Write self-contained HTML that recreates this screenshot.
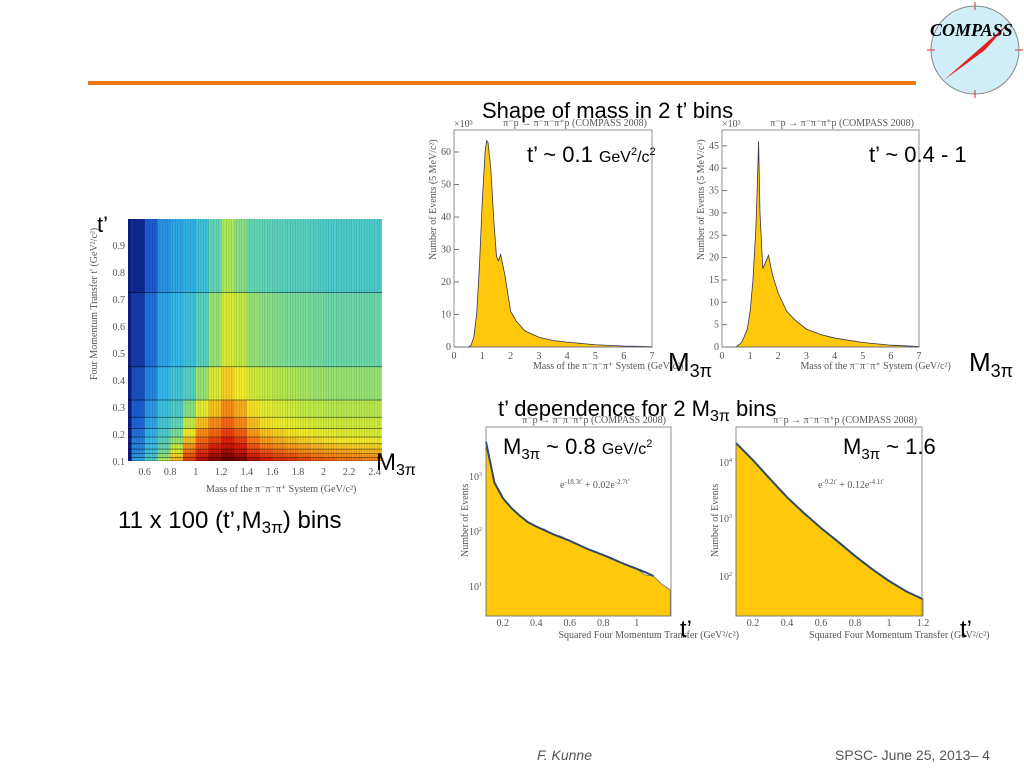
<!DOCTYPE html>
<html><head><meta charset="utf-8">
<style>
body{margin:0;background:#fff;width:1024px;height:768px;overflow:hidden}
svg{display:block}
.ax{font-family:"Liberation Serif",serif;fill:#555;font-size:10px}
.big{font-family:"Liberation Sans",sans-serif;fill:#000}
</style></head>
<body>
<svg id="s" width="1024" height="768" viewBox="0 0 1024 768" xmlns="http://www.w3.org/2000/svg">
<defs><clipPath id="hc"><rect x="128" y="219" width="254" height="242"/></clipPath></defs>
<line x1="88" y1="83" x2="916" y2="83" stroke="#f07a10" stroke-width="4"/>
<g>
<circle cx="975" cy="50" r="44" fill="#cfeef8" stroke="#888" stroke-width="1"/>
<line x1="975" y1="2" x2="975" y2="10" stroke="#d33"/><line x1="975" y1="90" x2="975" y2="98" stroke="#d33"/>
<line x1="927" y1="50" x2="935" y2="50" stroke="#d33"/><line x1="1015" y1="50" x2="1023" y2="50" stroke="#d33"/>
<polygon points="944,80 1010,22 985,50" fill="#e02020"/>
<text x="930" y="36" font-family="Liberation Serif,serif" font-style="italic" font-weight="bold" font-size="18">COMPASS</text>
</g>
<g id="heat"></g>
<g id="h1"></g>
<g id="h2"></g>
<g id="h3"></g>
<g id="h4"></g>

<text class="big" x="482" y="118" font-size="22">Shape of mass in 2 t’ bins</text>
<text class="big" x="527" y="162" font-size="22">t’ ~ 0.1 <tspan font-size="16">GeV<tspan dy="-7" font-size="11">2</tspan><tspan dy="7">/c</tspan><tspan dy="-7" font-size="11">2</tspan></tspan></text>
<text class="big" x="869" y="162" font-size="22">t’ ~ 0.4 - 1</text>
<text class="big" x="668" y="371" font-size="26">M<tspan font-size="18" dy="6">3π</tspan></text>
<text class="big" x="969" y="371" font-size="26">M<tspan font-size="18" dy="6">3π</tspan></text>
<text class="big" x="498" y="416" font-size="22">t’ dependence for 2 M<tspan font-size="16" dy="5">3π</tspan><tspan dy="-5"> bins</tspan></text>
<text class="big" x="503" y="454" font-size="22">M<tspan font-size="15" dy="5">3π</tspan><tspan dy="-5"> ~ 0.8 </tspan><tspan font-size="16">GeV/c<tspan dy="-7" font-size="11">2</tspan></tspan></text>
<text class="big" x="843" y="454" font-size="22">M<tspan font-size="15" dy="5">3π</tspan><tspan dy="-5"> ~ 1.6</tspan></text>
<text class="big" x="680" y="637" font-size="24">t’</text>
<text class="big" x="960" y="637" font-size="24">t’</text>
<text class="big" x="97" y="232" font-size="22">t’</text>
<text class="big" x="376" y="470" font-size="24">M<tspan font-size="16" dy="5">3π</tspan></text>
<text class="big" x="118" y="528" font-size="24">11 x 100 (t’,M<tspan font-size="17" dy="5">3π</tspan><tspan dy="-5">) bins</tspan></text>
<text x="537" y="760" font-family="Liberation Sans,sans-serif" font-style="italic" font-size="14" fill="#555">F. Kunne</text>
<text x="835" y="760" font-family="Liberation Sans,sans-serif" font-size="14" fill="#555">SPSC- June 25, 2013– 4</text>
</svg>
<script>
// ---- heatmap data ----
const tEdges=[0.1,0.113,0.127,0.144,0.164,0.189,0.220,0.262,0.326,0.449,0.724,1.0];
const massEdgesStart=0.5, massStep=0.1;
const heatRows=[
[0.3,0.4,0.55,0.72,0.86,0.93,0.97,1.0,0.98,0.93,0.9,0.88,0.87,0.85,0.83,0.82,0.8,0.8,0.78,0.78],
[0.28,0.38,0.52,0.7,0.84,0.9,0.95,0.97,0.95,0.9,0.87,0.85,0.84,0.82,0.8,0.79,0.78,0.77,0.76,0.76],
[0.26,0.36,0.48,0.64,0.81,0.88,0.92,0.95,0.92,0.87,0.84,0.82,0.8,0.78,0.77,0.76,0.75,0.74,0.73,0.73],
[0.25,0.35,0.45,0.58,0.77,0.85,0.9,0.92,0.9,0.84,0.8,0.78,0.76,0.75,0.73,0.72,0.71,0.7,0.7,0.7],
[0.24,0.34,0.43,0.52,0.72,0.82,0.86,0.9,0.87,0.8,0.76,0.74,0.72,0.7,0.69,0.68,0.67,0.67,0.66,0.66],
[0.22,0.32,0.4,0.48,0.66,0.78,0.82,0.86,0.83,0.76,0.72,0.7,0.68,0.66,0.65,0.64,0.63,0.63,0.62,0.62],
[0.2,0.3,0.38,0.44,0.58,0.72,0.78,0.82,0.78,0.72,0.68,0.66,0.64,0.62,0.61,0.6,0.6,0.6,0.6,0.6],
[0.18,0.28,0.36,0.4,0.5,0.64,0.72,0.78,0.74,0.68,0.64,0.62,0.6,0.58,0.57,0.56,0.56,0.56,0.56,0.56],
[0.15,0.25,0.33,0.37,0.42,0.52,0.62,0.7,0.67,0.6,0.58,0.56,0.55,0.54,0.53,0.52,0.52,0.52,0.52,0.52],
[0.1,0.22,0.3,0.33,0.36,0.42,0.52,0.62,0.58,0.52,0.5,0.49,0.48,0.48,0.47,0.46,0.46,0.46,0.46,0.46],
[0.05,0.18,0.27,0.3,0.32,0.36,0.45,0.55,0.5,0.45,0.44,0.43,0.42,0.42,0.41,0.4,0.4,0.4,0.4,0.4]];
const heatXTicks=[0.6,0.8,1,1.2,1.4,1.6,1.8,2,2.2,2.4];
const heatYTicks=[0.1,0.2,0.3,0.4,0.5,0.6,0.7,0.8,0.9];
// ---- mass histograms ----
const massPts1=[0,0.5,0.6,0.7,0.8,0.9,1.0,1.1,1.15,1.2,1.3,1.4,1.5,1.57,1.65,1.8,2.0,2.2,2.5,3,3.5,4,5,6,7];
const massVals1=[0,0,0.5,3,10,25,45,60,63.5,63,55,40,28,26.5,28.5,22,11,8,5,3,2,1.5,0.7,0.3,0.1];
const massPts2=[0,0.5,0.7,0.9,1.0,1.1,1.2,1.25,1.3,1.35,1.45,1.55,1.65,1.8,2,2.3,2.6,3,3.5,4,5,6,7];
const massVals2=[0,0,1,4,8,15,26,35,46,30,17.5,19,20.5,16,12,8,6,4,2.8,2,1,0.4,0.1];
const massTicks=[0,1,2,3,4,5,6,7];
const yTicks1=[0,10,20,30,40,50,60];
const yTicks2=[0,5,10,15,20,25,30,35,40,45];
// ---- t histograms (log10 counts) ----
const tPts3=[0.1,0.15,0.2,0.25,0.3,0.35,0.4,0.45,0.5,0.55,0.6,0.65,0.7,0.75,0.8,0.85,0.9,0.95,1.0,1.05,1.1,1.15,1.2];
const tLog3=[3.64,2.9,2.62,2.44,2.3,2.18,2.1,2.05,1.96,1.92,1.84,1.78,1.7,1.64,1.58,1.5,1.45,1.38,1.33,1.22,1.2,1.05,0.95];
const fitLog3=[3.64,2.9,2.62,2.44,2.3,2.18,2.1,2.03,1.96,1.9,1.84,1.77,1.7,1.64,1.58,1.52,1.45,1.39,1.33,1.27,1.2];
const tPts4=[0.1,0.2,0.3,0.4,0.5,0.6,0.7,0.8,0.9,1.0,1.1,1.2];
const tLog4=[4.35,4.05,3.72,3.4,3.12,2.86,2.62,2.37,2.14,1.93,1.75,1.61];
const tTicks=[0.2,0.4,0.6,0.8,1];
const tTicks4=[0.2,0.4,0.6,0.8,1,1.2];

const NS='http://www.w3.org/2000/svg';
function mk(p,tag,a){const e=document.createElementNS(NS,tag);for(const k in a)e.setAttribute(k,a[k]);p.appendChild(e);return e;}
function cmap(v){
  const st=[[0,[10,20,120]],[0.2,[30,100,215]],[0.33,[50,185,235]],[0.45,[100,215,180]],[0.57,[190,235,70]],[0.67,[245,235,40]],[0.8,[250,120,20]],[0.9,[220,30,10]],[1,[110,0,0]]];
  for(let i=1;i<st.length;i++){if(v<=st[i][0]){const f=(v-st[i-1][0])/(st[i][0]-st[i-1][0]);const a=st[i-1][1],b=st[i][1];return `rgb(${a.map((c,j)=>Math.round(c+(b[j]-c)*f)).join(',')})`;}}
  return 'rgb(110,0,0)';
}
// heatmap
(function(){
  const root=document.getElementById('heat');
  const g=mk(root,'g',{'clip-path':'url(#hc)'});
  const x=m=>128+(m-0.47)*127.8, y=t=>461-(t-0.1)*270;
  mk(g,'rect',{x:128,y:219,width:x(0.5)-128,height:242,fill:cmap(0.02)});
  heatRows.forEach((row,ri)=>row.forEach((v,ci)=>{
    const m0=massEdgesStart+ci*massStep;
    const r=mk(g,'rect',{x:x(m0),y:y(tEdges[ri+1]),width:x(m0+massStep)-x(m0)+0.5,height:y(tEdges[ri])-y(tEdges[ri+1])+0.5,fill:cmap(v)});
    
    
  }));
  for(let m=0.5;m<2.52;m+=0.02) mk(g,'line',{x1:x(m),y1:219,x2:x(m),y2:461,stroke:'rgba(0,0,0,0.22)','stroke-width':0.5});
  tEdges.forEach(t=>mk(g,'line',{x1:128,y1:y(t),x2:382,y2:y(t),stroke:'rgba(0,0,0,0.6)','stroke-width':0.7}));
  heatXTicks.forEach(m=>{const t=mk(root,'text',{x:x(m),y:475,'text-anchor':'middle',class:'ax','font-size':12});t.textContent=m;});
  heatYTicks.forEach(v=>{const t=mk(root,'text',{x:125,y:y(v)+4,'text-anchor':'end',class:'ax','font-size':12});t.textContent=v;});
  const xl=mk(root,'text',{x:206,y:492,class:'ax','font-size':11});xl.textContent='Mass of the π⁻π⁻π⁺ System (GeV/c²)';
  const yl=mk(root,'text',{x:0,y:0,class:'ax','font-size':11,transform:'translate(97,380) rotate(-90)'});yl.textContent="Four Momentum Transfer t' (GeV²/c²)";
})();
function frame(g,x0,y0,x1,y1,xlab,ylab,head){
  mk(g,'rect',{x:x0,y:y0,width:x1-x0,height:y1-y0,fill:'none',stroke:'#777','stroke-width':0.8});
  const t=mk(g,'text',{x:(x0+x1)/2-20,y:y1+22,class:'ax'});t.textContent=xlab;
  const yl=mk(g,'text',{x:0,y:0,class:'ax',transform:`translate(${x0-18},${y0+130}) rotate(-90)`});yl.textContent=ylab;
  const h=mk(g,'text',{x:x1-5,y:y0-4,class:'ax','font-size':6,'text-anchor':'end'});h.textContent=head;
}
function massHist(id,x0,x1,y1,ppu,pts,vals,yt){
  const g=document.getElementById(id);
  const x=m=>x0+m*(x1-x0)/7, y=v=>y1-v*ppu;
  let d=`M${x(pts[0])},${y1}`;pts.forEach((p,i)=>d+=` L${x(p)},${y(vals[i])}`);d+=` L${x(7)},${y1} Z`;
  const a=mk(g,'path',{d,fill:'#ffc80a',stroke:'#335','stroke-width':0.8});
  
  
  frame(g,x0,130,x1,y1,'Mass of the π⁻π⁻π⁺ System (GeV/c²)','Number of Events (5 MeV/c²)','π⁻p → π⁻π⁻π⁺p (COMPASS 2008)');
  massTicks.forEach(m=>{const t=mk(g,'text',{x:x(m),y:y1+12,'text-anchor':'middle',class:'ax'});t.textContent=m;});
  yt.forEach(v=>{const t=mk(g,'text',{x:x0-3,y:y(v)+3,'text-anchor':'end',class:'ax'});t.textContent=v;mk(g,'line',{x1:x0,y1:y(v),x2:x0+5,y2:y(v),stroke:'#777'});});
  const e=mk(g,'text',{x:x0,y:127,class:'ax','font-size':8});e.textContent='×10³';
}
massHist('h1',454,652,347,3.25,massPts1,massVals1,yTicks1);
massHist('h2',722,919,347,4.47,massPts2,massVals2,yTicks2);
function tHist(id,x0,x1,ppu,ref1,yRef,pts,logs,fit,ticks,yt,formula){
  const g=document.getElementById(id);
  const y0=427,y1=616;
  const x=t=>x0+(t-0.1)*ppu, y=l=>yRef-(l-ref1)*yt;
  let d=`M${x(pts[0])},${y1}`;pts.forEach((p,i)=>d+=` L${x(p)},${Math.max(y0,y(logs[i]))}`);d+=` L${x(pts[pts.length-1])},${y1} Z`;
  const a=mk(g,'path',{d,fill:'#ffc80a',stroke:'#777','stroke-width':0.8});
  
  
  let f='';fit.forEach((l,i)=>f+=(i?' L':'M')+x(pts[i])+','+y(l));
  const fl=mk(g,'path',{d:f,fill:'none',stroke:'#2c4a6a','stroke-width':2});
  
  
  frame(g,x0,y0,x1,y1,'Squared Four Momentum Transfer (GeV²/c²)','Number of Events','π⁻p → π⁻π⁻π⁺p (COMPASS 2008)');
  ticks.forEach(t=>{const e=mk(g,'text',{x:x(t),y:y1+10,'text-anchor':'middle',class:'ax'});e.textContent=t;});
  const ft=mk(g,'text',{x:formula[0],y:488,class:'ax','font-size':10});ft.innerHTML=formula[1];
}
tHist('h3',486,671,167.5,1,587,tPts3,tLog3,fitLog3,tTicks,55,[560,'e<tspan dy="-4" font-size="7">-18.3t\'</tspan><tspan dy="4"> + 0.02e</tspan><tspan dy="-4" font-size="7">-2.7t\'</tspan>']);
tHist('h4',736,922,170,4,463,tPts4,tLog4,tLog4,tTicks4,57,[818,'e<tspan dy="-4" font-size="7">-9.2t\'</tspan><tspan dy="4"> + 0.12e</tspan><tspan dy="-4" font-size="7">-4.1t\'</tspan>']);
// log tick labels
[['h3',482,[[1,587],[2,532],[3,477]]],['h4',732,[[2,577],[3,519],[4,463]]]].forEach(([id,xx,arr])=>{
  const g=document.getElementById(id);
  arr.forEach(([p,yy])=>{const t=mk(g,'text',{x:xx,y:yy+3,'text-anchor':'end',class:'ax','font-size':9});t.innerHTML='10<tspan dy="-4" font-size="6">'+p+'</tspan>';});
});
</script>
</body></html>
